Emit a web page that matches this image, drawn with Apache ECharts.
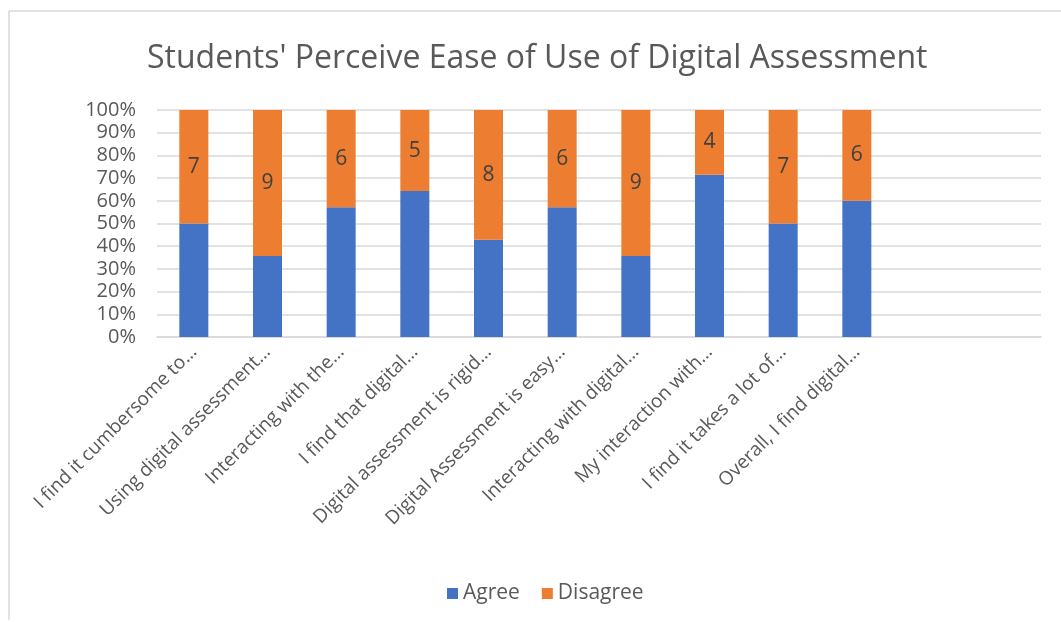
<!DOCTYPE html>
<html>
<head>
<meta charset="utf-8">
<script src="https://cdn.jsdelivr.net/npm/echarts@6/dist/echarts.min.js"></script>
<style>
  html, body { margin: 0; padding: 0; background: #fff; }
  #chart { width: 1061px; height: 622px; }
</style>
</head>
<body>
<div id="chart"></div>
<script>
// survey items (labels cut off as in the original Excel chart) + 2 empty slots
var categories = [
  "I find it cumbersome to…",
  "Using digital assessment…",
  "Interacting with the…",
  "I find that digital…",
  "Digital assessment is rigid…",
  "Digital Assessment is easy…",
  "Interacting with digital…",
  "My interaction with…",
  "I find it takes a lot of…",
  "Overall, I find digital…",
  "",
  ""
];
// response counts
var agree = [7, 5, 8, 9, 6, 8, 5, 10, 7, 9];
var disagree = [7, 9, 6, 5, 8, 6, 9, 4, 7, 6];
var yTicks = [0, 10, 20, 30, 40, 50, 60, 70, 80, 90, 100];

// 100% stacked -> share of each row
var agreePct = agree.map(function (v, i) { return v / (v + disagree[i]) * 100; });
var disagreePct = disagree.map(function (v, i) { return v / (agree[i] + v) * 100; });

var FONT = "'Open Sans', Lato, sans-serif";
var chart = echarts.init(document.getElementById("chart"));

chart.setOption({
  backgroundColor: "#fff",
  textStyle: { fontFamily: FONT },
  title: {
    text: "Students' Perceive Ease of Use of Digital Assessment",
    left: 142,
    top: 38,
    textStyle: { fontFamily: FONT, fontSize: 32, fontWeight: "normal", color: "#595959" }
  },
  graphic: [
    { type: "line", shape: { x1: 9, y1: 11, x2: 1061, y2: 11 }, style: { stroke: "#d9d9d9", lineWidth: 1.5 } },
    { type: "line", shape: { x1: 9, y1: 11, x2: 9, y2: 620 }, style: { stroke: "#d9d9d9", lineWidth: 1.5 } }
  ],
  legend: {
    left: 442,
    top: 578,
    itemWidth: 11,
    itemHeight: 11,
    itemGap: 22,
    itemStyle: { borderWidth: 0 },
    icon: "rect",
    textStyle: { fontFamily: FONT, fontSize: 21, color: "#595959" },
    data: ["Agree", "Disagree"]
  },
  grid: { left: 157, right: 20, top: 110, bottom: 285, containLabel: false },
  xAxis: {
    type: "category",
    data: categories,
    axisLine: { lineStyle: { color: "#d9d9d9", width: 1.5 } },
    axisTick: { show: false },
    axisLabel: {
      rotate: 45,
      interval: 0,
      margin: 12,
      fontFamily: FONT,
      fontSize: 19,
      color: "#595959"
    }
  },
  yAxis: {
    type: "value",
    min: 0,
    max: 100,
    interval: 10,
    axisLine: { show: false },
    axisTick: { show: false },
    splitLine: { lineStyle: { color: "#d9d9d9", width: 1.5 } },
    axisLabel: {
      margin: 21,
      fontFamily: FONT,
      fontSize: 20,
      lineHeight: 20,
      color: "#595959",
      formatter: function (v) { return yTicks.indexOf(v) >= 0 ? v + "%" : ""; }
    }
  },
  series: [
    {
      name: "Agree",
      type: "bar",
      stack: "all",
      barWidth: 29,
      itemStyle: { color: "#4472C4" },
      data: agreePct
    },
    {
      name: "Disagree",
      type: "bar",
      stack: "all",
      barWidth: 29,
      itemStyle: { color: "#ED7D31" },
      label: {
        show: true,
        position: "inside",
        fontFamily: FONT,
        fontSize: 21,
        color: "#404040",
        formatter: function (p) { return disagree[p.dataIndex]; }
      },
      data: disagreePct
    }
  ]
});
</script>
</body>
</html>
